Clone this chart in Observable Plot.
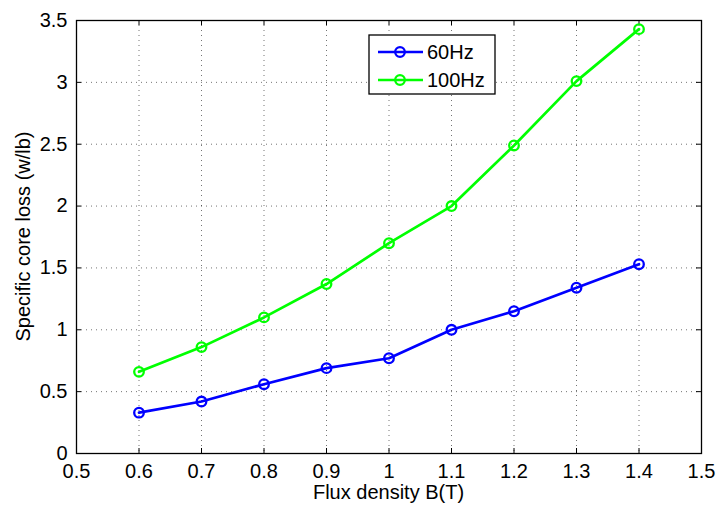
<!DOCTYPE html>
<html>
<head>
<meta charset="utf-8">
<script src="https://cdn.jsdelivr.net/npm/d3@7"></script>
<script src="https://cdn.jsdelivr.net/npm/@observablehq/plot@0.6"></script>
<style>
  html, body { margin: 0; padding: 0; background: #fff; }
  #chart { position: relative; width: 717px; height: 506px; }
  #chart svg { font-family: "Liberation Sans", Arial, sans-serif; }
  #chart svg text { font-size: 20px; fill: #000; }
  #chart svg g[aria-label="x-axis tick label"] text,
  #chart svg g[aria-label="y-axis tick label"] text { font-size: 19px; }
</style>
</head>
<body>
<div id="chart"></div>
<script>
// Flux density (T)
const fluxDensity = [0.6, 0.7, 0.8, 0.9, 1.0, 1.1, 1.2, 1.3, 1.4];
// Specific core loss (w/lb)
const loss60Hz  = [0.33, 0.42, 0.56, 0.69, 0.77, 1.00, 1.15, 1.34, 1.53];
const loss100Hz = [0.66, 0.86, 1.10, 1.37, 1.70, 2.00, 2.49, 3.01, 3.43];
const seriesNames = ["60Hz", "100Hz"];
const seriesColors = ["#0000ff", "#00ff00"];
const xTicks = [0.5, 0.6, 0.7, 0.8, 0.9, 1.0, 1.1, 1.2, 1.3, 1.4, 1.5];
const yTicks = [0, 0.5, 1, 1.5, 2, 2.5, 3, 3.5];

const rows = [];
fluxDensity.forEach((b, i) => {
  rows.push({B: b, loss: loss60Hz[i], series: seriesNames[0]});
  rows.push({B: b, loss: loss100Hz[i], series: seriesNames[1]});
});

const W = 717, H = 506;
const mL = 76, mR = 16, mT = 20, mB = 53;
const innerW = W - mL - mR, innerH = H - mT - mB;
const tickLen = 5;
const fmt = d => String(d);

const plot = Plot.plot({
  width: W,
  height: H,
  marginLeft: mL,
  marginRight: mR,
  marginTop: mT,
  marginBottom: mB,
  style: {fontFamily: "'Liberation Sans', Arial, sans-serif", color: "#000", background: "#fff"},
  x: {domain: [0.5, 1.5], ticks: xTicks, tickFormat: fmt, label: null},
  y: {domain: [0, 3.5], ticks: yTicks, tickFormat: fmt, label: null},
  color: {domain: seriesNames, range: seriesColors},
  marks: [
    // dotted grid
    Plot.gridX(xTicks, {stroke: "#000", strokeOpacity: 0.55, strokeDasharray: "1,4"}),
    Plot.gridY(yTicks, {stroke: "#000", strokeOpacity: 0.55, strokeDasharray: "1,4"}),
    // inward ticks on all four sides
    Plot.tickX(xTicks, {x: d => d, insetTop: innerH - tickLen, stroke: "#000"}),
    Plot.tickX(xTicks, {x: d => d, insetBottom: innerH - tickLen, stroke: "#000"}),
    Plot.tickY(yTicks, {y: d => d, insetRight: innerW - tickLen, stroke: "#000"}),
    Plot.tickY(yTicks, {y: d => d, insetLeft: innerW - tickLen, stroke: "#000"}),
    // tick labels
    Plot.axisX(xTicks, {tickSize: 0, tickPadding: 10, tickFormat: fmt, label: null, ariaLabel: "x-axis tick label"}),
    Plot.axisY(yTicks, {tickSize: 0, tickPadding: 9, tickFormat: fmt, label: null, ariaLabel: "y-axis tick label"}),
    // data series
    Plot.line(rows, {x: "B", y: "loss", z: "series", stroke: "series", strokeWidth: 2.7}),
    Plot.dot(rows, {x: "B", y: "loss", stroke: "series", r: 4.8, strokeWidth: 2.3, fill: "none"}),
    Plot.frame({stroke: "#000", strokeWidth: 1.3})
  ]
});

document.getElementById("chart").appendChild(plot);

// axis titles and legend
const svg = d3.select(plot);
const xs = plot.scale("x"), ys = plot.scale("y");
const cx = (xs.apply(0.5) + xs.apply(1.5)) / 2;
const cy = (ys.apply(0) + ys.apply(3.5)) / 2;

svg.append("text")
  .attr("x", cx).attr("y", 499)
  .attr("text-anchor", "middle")
  .text("Flux density B(T)");

svg.append("text")
  .attr("transform", `translate(30,${cy}) rotate(-90)`)
  .attr("text-anchor", "middle")
  .text("Specific core loss (w/lb)");

const leg = svg.append("g").attr("transform", "translate(369,35)");
leg.append("rect")
  .attr("width", 126).attr("height", 59)
  .attr("fill", "#fff").attr("stroke", "#000").attr("stroke-width", 1.3);
seriesNames.forEach((name, i) => {
  const y = 17 + i * 28;
  leg.append("line")
    .attr("x1", 9).attr("x2", 54).attr("y1", y).attr("y2", y)
    .attr("stroke", seriesColors[i]).attr("stroke-width", 2.7);
  leg.append("circle")
    .attr("cx", 31).attr("cy", y).attr("r", 4.8)
    .attr("fill", "none").attr("stroke", seriesColors[i]).attr("stroke-width", 2.3);
  leg.append("text")
    .attr("x", 58).attr("y", y).attr("dy", "0.36em")
    .attr("text-anchor", "start")
    .text(name);
});
</script>
</body>
</html>
